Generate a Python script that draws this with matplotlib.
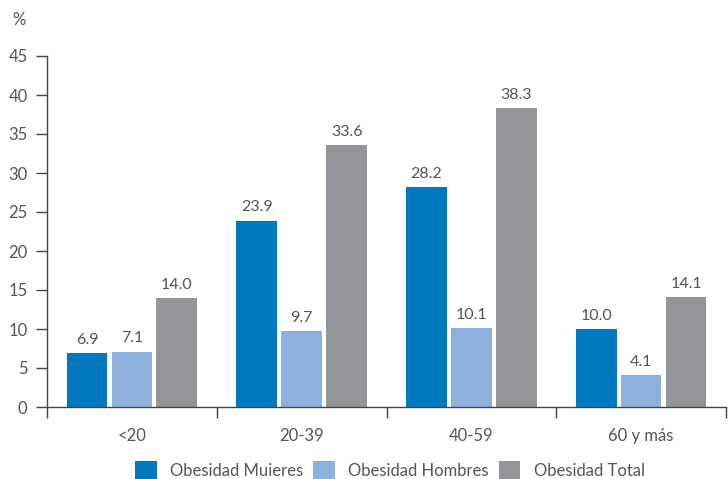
import numpy as np
import matplotlib.pyplot as plt

# Data
categorias = ["<20", "20-39", "40-59", "60 y más"]
mujeres = [6.9, 23.9, 28.2, 10.0]
hombres = [7.1, 9.7, 10.1, 4.1]
total = [14.0, 33.6, 38.3, 14.1]
series_names = ["Obesidad Muieres", "Obesidad Hombres", "Obesidad Total"]

colors = ["#0079c1", "#8db0dc", "#939598"]
txt = "#555555"

plt.rcParams['font.family'] = ['Lato', 'DejaVu Sans']

fig = plt.figure(figsize=(7.28, 4.79), dpi=100)
ax = fig.add_axes([47/728, 72/479, 679/728, 351/479])

x = np.arange(len(categorias))
w = 0.24
step = 0.265
for i, (vals, c, name) in enumerate(zip([mujeres, hombres, total], colors, series_names)):
    pos = x + (i - 1) * step
    ax.bar(pos, vals, width=w, color=c, label=name)
    for p, v in zip(pos, vals):
        ax.text(p, v + 0.8, f"{v:.1f}", ha='center', va='bottom', fontsize=11.5, color=txt)

ax.set_xlim(-0.5, 3.5)
ax.set_ylim(0, 45)
ax.set_yticks(range(0, 46, 5))
ax.tick_params(axis='y', length=8, width=1, color='#444444', labelsize=12, labelcolor=txt, pad=6)

# category labels between separator ticks
ax.set_xticks(np.arange(-0.5, 4, 1))
ax.set_xticklabels([])
ax.set_xticks(x, minor=True)
ax.set_xticklabels(categorias, minor=True)
ax.tick_params(axis='x', which='major', length=8, width=1, color='#444444', direction='out')
ax.tick_params(axis='x', which='minor', length=0, labelsize=12, labelcolor=txt, pad=15)

for s in ['top', 'right']:
    ax.spines[s].set_visible(False)
for s in ['left', 'bottom']:
    ax.spines[s].set_color('#444444')
    ax.spines[s].set_linewidth(1)

fig.text(12/728, 1 - 20/479, "%", fontsize=12, color=txt, va='center', ha='left')

fig.legend(loc='center', bbox_to_anchor=(390/728, 1 - 470/479), ncol=3, frameon=False,
           fontsize=12, labelcolor=txt, handlelength=1.3, handleheight=1.3,
           columnspacing=0.6, handletextpad=0.8)

fig.savefig("out.png", dpi=100)
